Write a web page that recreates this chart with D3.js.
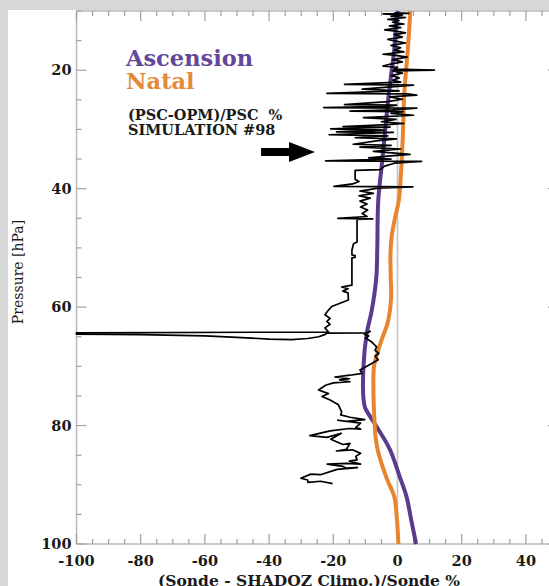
<!DOCTYPE html>
<html><head><meta charset="utf-8">
<script src="https://cdn.jsdelivr.net/npm/d3@7"></script>
<style>
html,body{margin:0;padding:0;background:#d7d7d7;}
svg{display:block;}
</style></head>
<body>
<svg id="chart" width="549" height="586"></svg>
<script>
// ---------- data ----------
const xTickValues = [-100, -80, -60, -40, -20, 0, 20, 40];
const yTickValues = [20, 40, 60, 80, 100];

// Ascension (purple) profile
const ascPressure = [10, 12, 16.5, 20, 25, 30.5, 36, 42, 50, 55, 60.5, 64.5, 70, 75.5, 77, 78.5, 80.2, 84, 88.5, 92, 96, 100];
const ascValue    = [0.2, -0.4, -1.0, -1.8, -2.9, -3.9, -4.9, -6.0, -6.3, -6.6, -8.0, -9.6, -10.6, -10.6, -10.1, -8.5, -6.5, -2.4, 0.6, 2.8, 4.3, 5.8];

// Natal (orange) profile
const natPressure = [10, 16.6, 24, 30.6, 36.3, 42, 45, 48, 51, 55, 58.5, 62.5, 65, 67.3, 70, 74, 79, 82, 84.5, 89, 92, 95, 100];
const natValue    = [4.0, 3.2, 2.1, 1.7, 1.2, 0.4, -0.8, -1.8, -2.2, -2.1, -2.0, -3.0, -4.6, -6.0, -7.3, -7.5, -7.2, -6.8, -6.0, -3.3, -1.0, -0.3, 0.3];

// (PSC-OPM)/PSC % simulation #98 profile: [value %, pressure hPa]
const pscProfile = [
[-1.0,10.3],[3.5,10.4],[-4.5,10.5],[1.5,10.7],[-2.0,10.9],[2.5,11.1],[-3.0,11.4],[0.5,11.6],[-1.5,11.9],[2.0,12.2],
[-2.5,12.5],[1.0,12.8],[-4.0,13.2],[-0.5,13.4],[2.5,13.7],[-1.0,14.0],[1.5,14.4],[-3.0,14.8],[-0.5,15.1],[2.5,15.4],
[-2.0,15.8],[1.0,16.2],[-1.0,16.6],[2.0,16.9],[-4.5,17.3],[-0.5,17.5],[3.0,17.8],[-1.5,18.2],[1.5,18.6],[-2.5,19.0],
[-4.5,19.3],[0.0,19.5],[-1.0,19.8],[11.5,20.0],[-1.5,20.1],[1.5,20.5],[-2.0,20.9],[0.5,21.3],[-1.5,21.7],[1.0,22.0],
[-16.5,22.4],[5.0,22.5],[-2.0,22.8],[-11.0,23.2],[0.5,23.5],[-22.0,23.9],[3.0,24.0],[6.0,24.2],[-2.5,24.5],[1.5,24.9],
[-3.0,25.3],[-16.5,25.8],[-0.3,25.9],[-3.0,26.1],[-23.0,26.3],[6.0,26.4],[-1.5,26.7],[-14.8,26.9],[1.8,27.0],[-2.0,27.3],
[5.0,27.6],[-10.6,28.0],[-0.5,28.3],[-5.0,28.7],[2.0,29.0],[-3.0,29.2],[-17.0,29.5],[-2.3,29.6],[-20.8,29.9],[-4.0,30.1],
[-19.0,30.4],[-1.3,30.5],[-21.3,30.9],[-3.0,31.1],[-13.2,31.4],[-0.3,31.6],[-6.0,31.9],[-13.8,32.5],[-2.0,32.7],[-11.7,33.0],
[1.0,33.3],[-7.5,33.7],[3.9,34.2],[-3.0,34.5],[-9.0,34.8],[-2.0,35.0],[-22.4,35.3],[7.5,35.4],[-1.0,35.7],[-4.0,36.2],
[-5.5,36.8],[-13.2,36.9],[-13.2,38.4],[-12.0,38.8],[-14.0,39.2],[-19.8,39.6],[4.8,39.7],[-6.0,39.9],[-11.7,40.4],[-7.5,40.8],
[-12.0,41.2],[-8.5,41.6],[-11.7,42.1],[-9.5,42.6],[-11.5,43.1],[-9.3,43.6],[-11.0,44.2],[-9.5,44.7],
[-18.6,45.0],[-7.7,45.1],[-12.6,45.2],[-12.6,49.0],[-13.7,49.3],[-14.2,50.4],[-14.2,51.2],[-13.2,51.3],[-13.2,51.6],[-14.2,51.7],
[-14.2,56.3],[-17.4,56.6],[-15.4,56.9],[-17.0,57.3],[-15.4,57.6],[-15.3,58.8],[-20.5,59.9],[-21.5,60.5],[-22.6,61.3],[-21.0,61.9],
[-22.0,62.4],[-21.0,62.9],[-22.6,63.5],[-21.5,64.2],
[-100,64.35],[-100,64.55],[-80,64.65],[-60,64.85],[-50,65.1],[-40,65.4],[-33,65.5],[-28,65.3],[-24.5,65.0],[-22.5,64.6],
[-22.0,64.4],[-9.6,64.35],[-8.5,64.1],[-10.5,64.5],[-9.0,64.9],[-10.0,65.2],
[-8.0,65.9],[-6.5,66.7],[-7.0,67.3],[-5.8,67.8],[-7.0,68.3],[-6.0,68.9],[-9.0,69.8],[-11.7,70.6],[-11.0,71.2],[-14.8,71.5],
[-19.5,71.8],[-15.0,72.1],[-18.0,72.3],[-14.8,72.6],[-20.0,72.8],[-22.4,73.2],[-24.6,74.0],[-21.5,74.6],[-23.5,75.1],[-21.0,75.7],
[-18.4,76.5],[-17.4,77.7],[-17.7,78.2],[-14.8,78.6],[-10.2,79.0],[-15.9,79.3],[-18.6,79.1],[-11.5,79.6],[-13.0,80.3],[-11.5,80.6],
[-15.0,80.5],[-21.0,80.9],[-27.3,81.7],[-22.0,82.0],[-17.5,81.3],[-20.8,82.3],[-17.0,83.2],[-14.8,83.0],[-15.9,84.0],[-19.0,84.3],
[-14.0,84.1],[-11.5,84.7],[-13.0,85.2],[-12.6,85.8],[-15.0,86.0],[-11.5,86.5],[-16.0,86.4],[-21.9,86.5],[-17.0,86.9],[-15.9,87.2],
[-12.5,87.1],[-18.8,87.4],[-24.0,88.3],[-27.0,88.2],[-30.1,88.9],[-28.0,89.2],[-27.9,89.6],[-24.0,89.4],[-20.2,89.8]
];

// ---------- chart ----------
const svg = d3.select("#chart");
const serif = "'DejaVu Serif', 'Liberation Serif', serif";

// white panel
svg.append("rect").attr("x", 8).attr("y", 10).attr("width", 549).attr("height", 586).attr("fill", "#ffffff");

const x = d3.scaleLinear().domain([-100, 50]).range([76.5, 558]);
const y = d3.scaleLinear().domain([10, 100]).range([11, 544]);

const axisColor = "#b8b8b8";
const tickColor = "#a0a0a0";

// zero reference line
svg.append("line")
  .attr("x1", x(0)).attr("x2", x(0)).attr("y1", y(10)).attr("y2", y(100))
  .attr("stroke", "#c4c4c4").attr("stroke-width", 1.6);

// axes frame
const g = svg.append("g");
g.append("line").attr("x1", x(-100)).attr("x2", x(50)).attr("y1", y(10)).attr("y2", y(10)).attr("stroke", axisColor).attr("stroke-width", 1.5);
g.append("line").attr("x1", x(-100)).attr("x2", x(50)).attr("y1", y(100)).attr("y2", y(100)).attr("stroke", axisColor).attr("stroke-width", 1.5);
g.append("line").attr("x1", x(-100)).attr("x2", x(-100)).attr("y1", y(10)).attr("y2", y(100)).attr("stroke", axisColor).attr("stroke-width", 1.5);
g.append("line").attr("x1", x(50)).attr("x2", x(50)).attr("y1", y(10)).attr("y2", y(100)).attr("stroke", axisColor).attr("stroke-width", 1.5);

// x ticks (major every 20, minor every 5)
const xMinor = d3.range(-100, 50.1, 5);
xMinor.forEach(v => {
  const major = (v % 20 === 0);
  const len = major ? 10 : 5;
  g.append("line").attr("x1", x(v)).attr("x2", x(v)).attr("y1", y(100)).attr("y2", y(100) - len).attr("stroke", tickColor).attr("stroke-width", 1.2);
  g.append("line").attr("x1", x(v)).attr("x2", x(v)).attr("y1", y(10)).attr("y2", y(10) + len).attr("stroke", tickColor).attr("stroke-width", 1.2);
});
// y ticks (major every 20, minor every 5)
const yMinor = d3.range(10, 100.1, 5);
yMinor.forEach(p => {
  const major = (p % 20 === 0);
  const len = major ? 10 : 5;
  g.append("line").attr("x1", x(-100)).attr("x2", x(-100) + len).attr("y1", y(p)).attr("y2", y(p)).attr("stroke", tickColor).attr("stroke-width", 1.2);
  g.append("line").attr("x1", x(50)).attr("x2", x(50) - len).attr("y1", y(p)).attr("y2", y(p)).attr("stroke", tickColor).attr("stroke-width", 1.2);
});

// tick labels
svg.append("g").selectAll("text").data(xTickValues).join("text")
  .attr("x", d => x(d)).attr("y", 566)
  .attr("text-anchor", "middle")
  .attr("font-family", serif).attr("font-weight", "bold").attr("font-size", 14.5).attr("fill", "#1a1a1a")
  .text(d => d);
svg.append("g").selectAll("text").data(yTickValues).join("text")
  .attr("x", 71.5).attr("y", d => y(d) + 5)
  .attr("text-anchor", "end")
  .attr("font-family", serif).attr("font-weight", "bold").attr("font-size", 14.5).attr("fill", "#1a1a1a")
  .text(d => d);

// axis titles
svg.append("text").attr("x", 309).attr("y", 586)
  .attr("text-anchor", "middle")
  .attr("font-family", serif).attr("font-weight", "bold").attr("font-size", 15.5).attr("fill", "#1a1a1a")
  .text("(Sonde - SHADOZ Climo.)/Sonde %");
svg.append("text")
  .attr("transform", "translate(23,272) rotate(-90)")
  .attr("text-anchor", "middle")
  .attr("font-family", serif).attr("font-size", 14).attr("fill", "#1a1a1a")
  .text("Pressure [hPa]");

// profiles
const line = d3.line().x(d => x(d[0])).y(d => y(d[1]));
const smooth = d3.line().x(d => x(d[0])).y(d => y(d[1])).curve(d3.curveCatmullRom.alpha(0.5));

const ascData = ascPressure.map((p, i) => [ascValue[i], p]);
const natData = natPressure.map((p, i) => [natValue[i], p]);

svg.append("path").datum(ascData).attr("d", smooth)
  .attr("fill", "none").attr("stroke", "#5b3b8c").attr("stroke-width", 4).attr("stroke-linejoin", "round");
svg.append("path").datum(natData).attr("d", smooth)
  .attr("fill", "none").attr("stroke", "#e8852f").attr("stroke-width", 4).attr("stroke-linejoin", "round");
svg.append("path").datum(pscProfile).attr("d", line)
  .attr("fill", "none").attr("stroke", "#000000").attr("stroke-width", 1.7).attr("stroke-linejoin", "round");

// legend / annotations
svg.append("text").attr("x", 126).attr("y", 66)
  .attr("font-family", serif).attr("font-weight", "bold").attr("font-size", 22.5).attr("fill", "#65479a")
  .text("Ascension");
svg.append("text").attr("x", 126).attr("y", 89)
  .attr("font-family", serif).attr("font-weight", "bold").attr("font-size", 22.5).attr("fill", "#e48a3a")
  .text("Natal");
svg.append("text").attr("x", 128).attr("y", 119.5)
  .attr("font-family", serif).attr("font-weight", "bold").attr("font-size", 14.5).attr("fill", "#1a1a1a")
  .attr("xml:space", "preserve")
  .text("(PSC-OPM)/PSC  %");
svg.append("text").attr("x", 128).attr("y", 135)
  .attr("font-family", serif).attr("font-weight", "bold").attr("font-size", 14.5).attr("fill", "#1a1a1a")
  .text("SIMULATION #98");

// arrow pointing at the profile
const ax0 = x(-42.5), ax1 = x(-25.7), axh = x(-33.8), ay = y(33.8);
svg.append("path")
  .attr("d", `M${ax0},${ay - 4}L${axh},${ay - 4}L${axh},${ay - 10}L${ax1},${ay}L${axh},${ay + 10}L${axh},${ay + 4}L${ax0},${ay + 4}Z`)
  .attr("fill", "#000");
</script>
</body></html>
